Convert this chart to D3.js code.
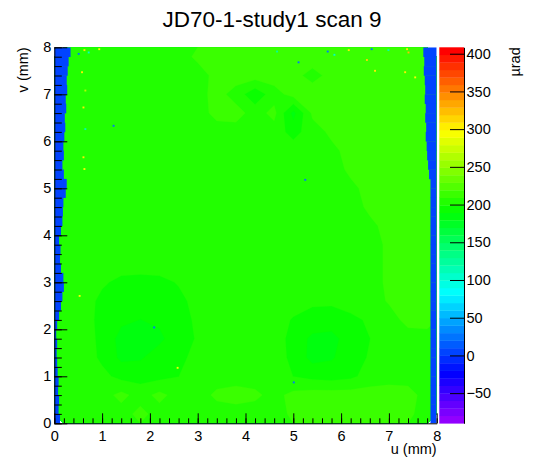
<!DOCTYPE html>
<html>
<head>
<meta charset="utf-8">
<script src="https://cdn.jsdelivr.net/npm/d3@7"></script>
<style>
  html, body { margin: 0; padding: 0; background: #fff; }
  svg { display: block; }
  text { font-family: "Liberation Sans", Arial, Helvetica, sans-serif; fill: #000; }
</style>
</head>
<body>
<script>
// ---------------- DATA ----------------
const title = "JD70-1-study1 scan 9";
const xTitle = "u (mm)";
const yTitle = "v (mm)";
const zTitle = "\u00b5rad";
const xTicks = [0, 1, 2, 3, 4, 5, 6, 7, 8];
const yTicks = [0, 1, 2, 3, 4, 5, 6, 7, 8];
const zTicks = [-50, 0, 50, 100, 150, 200, 250, 300, 350, 400];
const zRange = [-90, 408.5];

// field values (µrad), 20 x 20 cells of 0.4 mm, first row at top (v = 7.8), first column u = 0.2
const fieldRows = [
  [205,205,205,205,205,205,205,211,214,214,214,214,214,214,214,214,214,214,214,214],
  [205,205,205,205,205,205,205,205,212,214,214,214,212,206,212,214,214,214,214,214],
  [205,205,205,205,205,205,205,205,213,205,192,205,213,214,214,214,214,214,214,214],
  [205,205,205,205,205,205,205,205,212,213,205,212,186,211,214,214,214,214,214,214],
  [205,205,205,205,205,205,205,205,205,205,205,205,195,205,211,214,214,214,214,214],
  [205,205,205,205,205,205,205,205,205,205,205,205,205,205,207,212,214,214,214,214],
  [205,205,205,205,205,205,205,205,205,205,205,205,205,205,205,211,214,214,214,214],
  [205,205,205,205,205,205,205,205,205,205,205,205,205,205,205,207,212,214,214,214],
  [205,205,205,205,205,205,205,205,205,205,205,205,205,205,205,205,211,214,214,214],
  [205,205,205,205,205,205,205,205,205,205,205,205,205,205,205,205,207,212,214,214],
  [205,205,205,205,205,205,205,205,205,205,205,205,205,205,205,205,205,211,214,214],
  [205,205,205,205,205,205,205,205,205,205,205,205,205,205,205,205,205,211,214,214],
  [205,205,201,196,195,196,200,205,205,205,205,205,205,205,205,205,205,211,214,214],
  [205,205,196,194,194,195,196,203,205,205,205,205,205,201,201,205,205,210,214,214],
  [205,205,195,191,189,191,195,201,205,205,205,205,198,195,194,196,201,205,212,213],
  [205,205,196,186,185,187,195,200,205,205,205,205,195,187,186,194,199,205,205,205],
  [205,205,197,187,188,194,196,203,205,205,205,205,196,186,188,195,200,205,205,205],
  [205,205,202,196,195,196,199,205,205,205,205,205,199,196,195,197,203,205,205,205],
  [205,205,205,212,205,212,205,205,211,213,211,206,212,214,214,214,214,214,213,205],
  [205,205,205,205,212,205,205,205,205,205,205,205,211,213,214,214,214,213,211,205]
];

// left/right low-value edge strips: 40 rows of 0.2 mm from the top (v = 8 down to 0)
const edgeValue = 5;
const leftEdge = [0.34,0.30,0.28,0.26,0.27,0.24,0.25,0.22,0.23,0.21,
                  0.19,0.20,0.17,0.20,0.26,0.24,0.19,0.18,0.17,0.14,
                  0.10,0.13,0.12,0.14,0.19,0.20,0.17,0.14,0.10,0.06,
                  0.04,0.06,0.05,0.06,0.07,0.09,0.08,0.10,0.09,0.12];
const rightEdge = [7.72,7.74,7.73,7.75,7.76,7.75,7.77,7.76,7.78,7.77,
                   7.79,7.80,7.82,7.84,7.87,7.87,7.87,7.87,7.87,7.87,
                   7.87,7.87,7.87,7.87,7.87,7.87,7.87,7.87,7.87,7.87,
                   7.87,7.87,7.87,7.87,7.87,7.87,7.87,7.87,7.87,7.87];

// isolated outlier bins [u, v, value]
const outliers = [
  [0.61,7.94,300],[0.70,7.89,100],[0.49,7.86,20],[0.92,7.96,290],[0.56,7.47,300],
  [0.63,7.08,260],[0.59,6.72,300],[1.22,6.33,20],[0.63,6.26,110],[0.59,5.66,300],
  [0.61,5.41,290],[5.70,7.91,20],[5.84,7.84,100],[6.14,7.94,300],[6.52,7.73,310],
  [6.62,7.96,20],[6.97,7.94,110],[7.36,7.96,300],[7.39,7.89,320],[7.32,7.47,300],
  [7.53,7.36,290],[5.09,7.68,20],[4.64,7.91,120],[5.23,5.18,20],[6.69,7.50,300],
  [2.07,2.04,20],[4.99,0.87,20],[0.51,2.71,290],[2.56,1.18,290]
];

// ---------------- CHART ----------------
const W = 546, H = 472;
const px0 = 54.3, px1 = 436.7, py0 = 47.3, py1 = 423.3;
const cbX0 = 439.3, cbX1 = 464;
const nBands = 50;

const svg = d3.select("body").append("svg").attr("width", W).attr("height", H);

const x = d3.scaleLinear().domain([0, 8]).range([px0, px1]);
const y = d3.scaleLinear().domain([0, 8]).range([py1, py0]);
const z = d3.scaleLinear().domain(zRange).range([py1, py0]);

// ROOT "pretty" palette: 50 HLS colours violet -> red
const palette = d3.range(nBands).map(i => i < nBands - 1 ? d3.hsl(280 - (i + 1) * 280 / nBands, 1, 0.5).formatHex() : "#ff0000");
const color = d3.scaleQuantize().domain(zRange).range(palette);
const dz = (zRange[1] - zRange[0]) / nBands;
const thresholds = d3.range(nBands).map(k => zRange[0] + k * dz);

// field via contours
const ny = fieldRows.length, nx = fieldRows[0].length;
const values = fieldRows.flat();
const contours = d3.contours().size([nx, ny]).thresholds(thresholds)(values);
const proj = d3.geoTransform({
  point: function (gx, gy) { this.stream.point(x(gx * 8 / nx), y(8 - gy * 8 / ny)); }
});
const path = d3.geoPath(proj);

svg.append("clipPath").attr("id", "plotclip").append("rect")
  .attr("x", px0).attr("y", py0).attr("width", px1 - px0).attr("height", py1 - py0);

const field = svg.append("g").attr("clip-path", "url(#plotclip)");
field.selectAll("path.c").data(contours.filter(c => c.coordinates.length))
  .join("path").attr("class", "c")
  .attr("d", path)
  .attr("fill", c => color(c.value + dz / 2))
  .attr("stroke", c => color(c.value + dz / 2))
  .attr("stroke-width", 0.3);

// edge strips
const rowH = 8 / leftEdge.length;
field.selectAll("rect.le").data(leftEdge).join("rect").attr("class", "le")
  .attr("x", x(0)).attr("y", (d, i) => y(8 - i * rowH))
  .attr("width", d => x(d) - x(0))
  .attr("height", (d, i) => y(8 - (i + 1) * rowH) - y(8 - i * rowH) + 0.3)
  .attr("fill", color(edgeValue));
field.selectAll("rect.re").data(rightEdge).join("rect").attr("class", "re")
  .attr("x", d => x(d)).attr("y", (d, i) => y(8 - i * rowH))
  .attr("width", d => x(8) - x(d))
  .attr("height", (d, i) => y(8 - (i + 1) * rowH) - y(8 - i * rowH) + 0.3)
  .attr("fill", color(edgeValue));

// outliers
const ob = 0.04;
field.selectAll("rect.o").data(outliers).join("rect").attr("class", "o")
  .attr("x", d => x(d[0])).attr("y", d => y(d[1] + ob / 2))
  .attr("width", x(ob) - x(0)).attr("height", y(0) - y(ob))
  .attr("fill", d => color(d[2]));

// axes
const fontSize = 14.5;
function styleAxis(g) {
  g.selectAll("text").attr("font-size", fontSize).attr("font-family", "Liberation Sans, Arial, sans-serif").attr("fill", "#000");
  g.selectAll("line").attr("stroke", "#000");
  g.select(".domain").attr("stroke", "#000");
}
const xMinor = d3.range(0, 8.0001, 0.2);
const yMinor = d3.range(0, 8.0001, 0.2);

svg.append("g").attr("transform", `translate(0,${py1})`)
  .call(d3.axisBottom(x).tickValues(xMinor).tickSize(-5).tickFormat("").tickSizeOuter(0))
  .call(g => g.select(".domain").remove()).call(styleAxis);
svg.append("g").attr("transform", `translate(0,${py1})`)
  .call(d3.axisBottom(x).tickValues(xTicks).tickSize(-10).tickPadding(7).tickSizeOuter(0).tickFormat(d3.format("d")))
  .call(styleAxis);

svg.append("g").attr("transform", `translate(${px0},0)`)
  .call(d3.axisLeft(y).tickValues(yMinor).tickSize(-7.5).tickFormat("").tickSizeOuter(0))
  .call(g => g.select(".domain").remove()).call(styleAxis);
svg.append("g").attr("transform", `translate(${px0},0)`)
  .call(d3.axisLeft(y).tickValues(yTicks).tickSize(-13).tickPadding(3).tickSizeOuter(0).tickFormat(d3.format("d")))
  .call(styleAxis);

// colour bar
svg.append("g").selectAll("rect").data(thresholds).join("rect")
  .attr("x", cbX0).attr("width", cbX1 - cbX0)
  .attr("y", t => z(t + dz)).attr("height", t => z(t) - z(t + dz) + 0.3)
  .attr("fill", t => color(t + dz / 2));
svg.append("g").attr("transform", `translate(${cbX1},0)`)
  .call(d3.axisRight(z).tickValues(zTicks).tickSize(-14).tickPadding(2.5).tickSizeOuter(0).tickFormat(d3.format("d")))
  .call(styleAxis);

// titles
svg.append("text").attr("x", 272).attr("y", 27).attr("text-anchor", "middle")
  .attr("font-size", 22.5).text(title);
svg.append("text").attr("x", px1).attr("y", 454).attr("text-anchor", "end")
  .attr("font-size", fontSize).text(xTitle);
svg.append("text").attr("transform", `translate(28,${py0}) rotate(-90)`).attr("text-anchor", "end")
  .attr("font-size", fontSize).text(yTitle);
svg.append("text").attr("transform", `translate(519.5,${py0}) rotate(-90)`).attr("text-anchor", "end")
  .attr("font-size", fontSize).text(zTitle);
</script>
</body>
</html>
